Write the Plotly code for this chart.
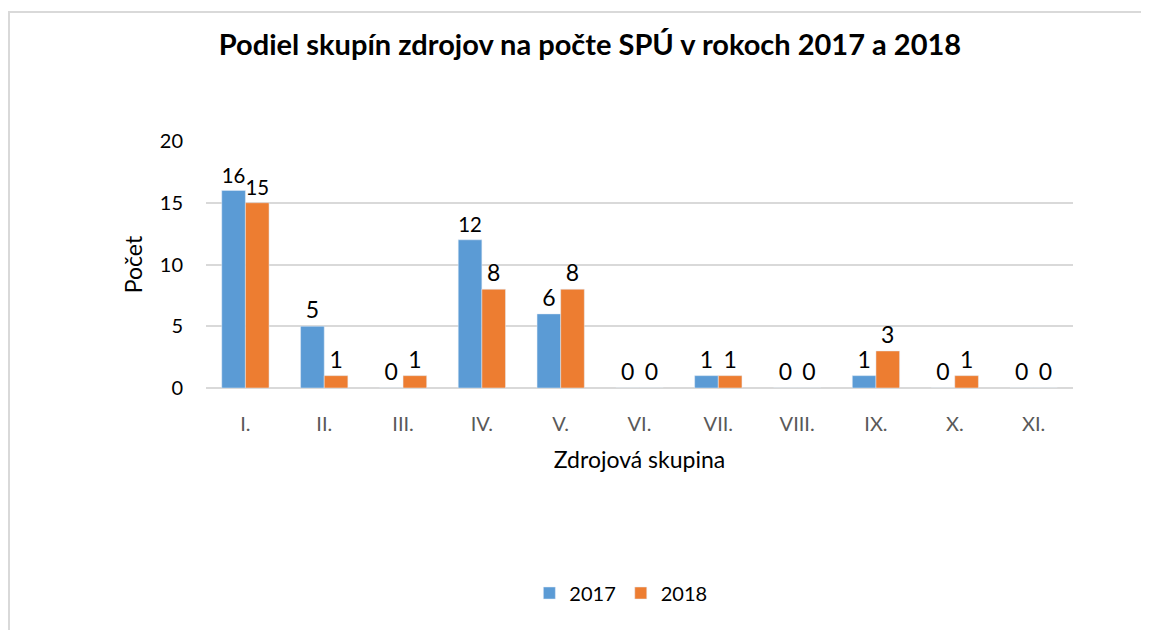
"""Podiel skupín zdrojov na počte SPÚ – grouped bar chart."""

import plotly.graph_objects as go

categories = ["I.", "II.", "III.", "IV.", "V.", "VI.", "VII.", "VIII.", "IX.", "X.", "XI."]
values_2017 = [16, 5, 0, 12, 6, 0, 1, 0, 1, 0, 0]
values_2018 = [15, 1, 1, 8, 8, 0, 1, 0, 3, 1, 0]
y_ticks = [0, 5, 10, 15, 20]

FONT = "Lato, 'Open Sans', sans-serif"
BLUE = "#5B9BD5"
ORANGE = "#ED7D31"

fig = go.Figure()
fig.add_trace(go.Bar(
    name="2017", x=categories, y=values_2017,
    marker_color=BLUE,
    text=values_2017, textposition="outside",
    textfont=dict(size=23, color="#000000"),
    cliponaxis=False,
))
fig.add_trace(go.Bar(
    name="2018", x=categories, y=values_2018,
    marker_color=ORANGE,
    text=values_2018, textposition="outside",
    textfont=dict(size=23, color="#000000"),
    cliponaxis=False,
))

# the page adds an 8px body margin, so everything is shifted up/left by 8px
fig.update_layout(
    width=1149, height=630,
    margin=dict(l=198, r=84, t=133, b=250),
    paper_bgcolor="white", plot_bgcolor="white",
    font=dict(family=FONT, color="#595959"),
    barmode="group", bargap=0.4, bargroupgap=0,
    title=dict(
        text="<b>Podiel skupín zdrojov na počte SPÚ v rokoch 2017 a 2018</b>",
        x=0.5065, xref="container", xanchor="center",
        y=0.941, yref="container", yanchor="middle",
        font=dict(size=29, color="#000000"),
    ),
    xaxis=dict(
        showline=False, showgrid=False, ticks="",
        tickfont=dict(size=20, color="#595959"),
        ticklabelstandoff=22,
        title=dict(text="Zdrojová skupina", font=dict(size=23, color="#000000"), standoff=17),
    ),
    yaxis=dict(
        range=[0, 20], tickvals=y_ticks,
        showgrid=True, gridcolor="#D9D9D9", gridwidth=2,
        zeroline=True, zerolinecolor="#D9D9D9", zerolinewidth=2,
        showline=False, ticks="",
        tickfont=dict(size=20, color="#000000"),
        ticklabelstandoff=22,
        title=dict(text="Počet", font=dict(size=23, color="#000000"), standoff=10),
    ),
    showlegend=True,
    legend=dict(
        orientation="h", x=0.4785, xanchor="center", y=-0.830, yanchor="middle",
        font=dict(size=20, color="#000000"),
        itemwidth=30, traceorder="normal",
    ),
    shapes=[dict(
        type="rect", xref="paper", yref="paper",
        x0=-0.2272, x1=1.2, y0=-1.2, y1=1.522,
        line=dict(color="#D9D9D9", width=2), fillcolor="rgba(0,0,0,0)", layer="below",
    )],
)

fig.write_html("out.html")
